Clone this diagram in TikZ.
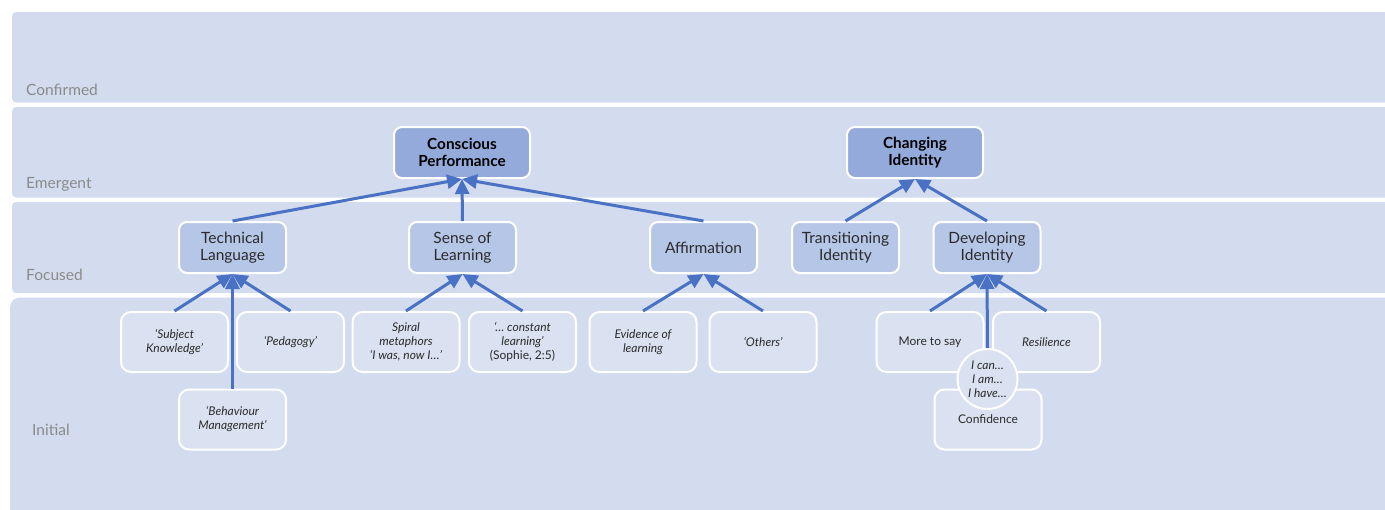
\documentclass[tikz,border=0pt]{standalone}
\usepackage{fontspec}
\setmainfont{Lato}
\usetikzlibrary{arrows.meta}

\definecolor{bandfill}{HTML}{D3DCEE}
\definecolor{topfill}{HTML}{94AADA}
\definecolor{midfill}{HTML}{B6C6E7}
\definecolor{leaffill}{HTML}{DAE1F1}
\definecolor{linkblue}{HTML}{4A72C4}
\definecolor{inkdark}{HTML}{2B2B2B}
\definecolor{bandlabel}{HTML}{8A8A8A}

\tikzset{
  band/.style={fill=bandfill, draw=none, rounded corners=4pt},
  bandtext/.style={anchor=base west, text=bandlabel, inner sep=0pt,
    font=\fontsize{15.5}{18}\selectfont},
  topbox/.style={fill=topfill, draw=white, line width=2pt, rounded corners=8pt,
    minimum width=136pt, minimum height=51pt, inner sep=0pt, align=center,
    text=black, font=\bfseries\fontsize{15.3}{17}\selectfont},
  midbox/.style={fill=midfill, draw=white, line width=2pt, rounded corners=8pt,
    minimum width=107pt, minimum height=51pt, inner sep=0pt, align=center,
    text=inkdark, font=\fontsize{15.5}{17}\selectfont},
  leafbox/.style={fill=leaffill, draw=white, line width=2pt, rounded corners=10pt,
    minimum width=107pt, minimum height=60pt, inner sep=0pt, align=center,
    text=inkdark, font=\fontsize{12}{14}\selectfont},
  bubble/.style={circle, fill=leaffill, draw=white, line width=2pt,
    minimum size=60pt, inner sep=0pt, align=center, text=inkdark,
    font=\itshape\fontsize{12}{14}\selectfont},
  link/.style={draw=linkblue, line width=3pt,
    -{Triangle[length=15pt,width=14pt]}},
}

\begin{document}
\begin{tikzpicture}[x=1pt, y=-1pt]
\useasboundingbox (0,0) rectangle (1385,509);
\clip (0,0) rectangle (1385,509);

% level bands
\fill[band] (12,12) rectangle (1400,102.5);
\fill[band] (12,107) rectangle (1400,197.5);
\fill[band] (12,202) rectangle (1400,293);
\fill[band, rounded corners=10pt] (10,297.5) rectangle (1400,530);

\node[bandtext] (lconf) at (26,95) {Confirmed};
\node[bandtext] (lemer) at (26,188) {Emergent};
\node[bandtext] (lfocu) at (26,280) {Focused};
\node[bandtext] (linit) at (32,435) {Initial};

% emergent concepts
\node[topbox] (cp) at (462,152.5) {Conscious\\Performance};
\node[topbox] (ci) at (915,152.5) {Changing\\Identity};

% focused concepts
\node[midbox] (tl) at (232.5,247.5) {Technical\\Language};
\node[midbox] (sl) at (462.5,247.5) {Sense of\\Learning};
\node[midbox] (af) at (703.5,247.5) {Affirmation};
\node[midbox] (ti) at (845.5,247.5) {Transitioning\\Identity};
\node[midbox] (di) at (987,247.5) {Developing\\Identity};

% initial codes
\node[leafbox] (sk) at (174.5,342) {\itshape ‘Subject\\\itshape Knowledge’};
\node[leafbox] (pe) at (290.5,342) {\itshape ‘Pedagogy’};
\node[leafbox] (bm) at (232.5,419.5) {\itshape ‘Behaviour\\\itshape Management’};
\node[leafbox] (sm) at (406,342) {\itshape Spiral\\\itshape metaphors\\\itshape ‘I was, now I…’};
\node[leafbox] (cl) at (522.5,342) {\itshape ‘… constant\\\itshape learning’\\(Sophie, 2:5)};
\node[leafbox] (ev) at (643,342) {\itshape Evidence of\\\itshape learning};
\node[leafbox] (ot) at (763,342) {\itshape ‘Others’};
\node[leafbox] (ms) at (930,342) {More to say};
\node[leafbox] (re) at (1046.5,342) {\itshape Resilience};
\node[leafbox] (co) at (988,419.5) {Confidence};
\node[bubble] (ic) at (987.5,379) {I can…\\I am…\\I have…};

% links upward
\draw[link] (tl.north) -- (cp.south);
\draw[link] (sl.north) -- (cp.south);
\draw[link] (af.north) -- (cp.south);
\draw[link] (ti.north) -- (ci.south);
\draw[link] (di.north) -- (ci.south);

\draw[link] (sk.north) -- (tl.south);
\draw[link] (pe.north) -- (tl.south);
\draw[link] (bm.north) -- (tl.south);
\draw[link] (sm.north) -- (sl.south);
\draw[link] (cl.north) -- (sl.south);
\draw[link] (ev.north) -- (af.south);
\draw[link] (ot.north) -- (af.south);
\draw[link] (ms.north) -- (di.south);
\draw[link] (re.north) -- (di.south);
\draw[link] (ic.north) -- (di.south);
\end{tikzpicture}
\end{document}
